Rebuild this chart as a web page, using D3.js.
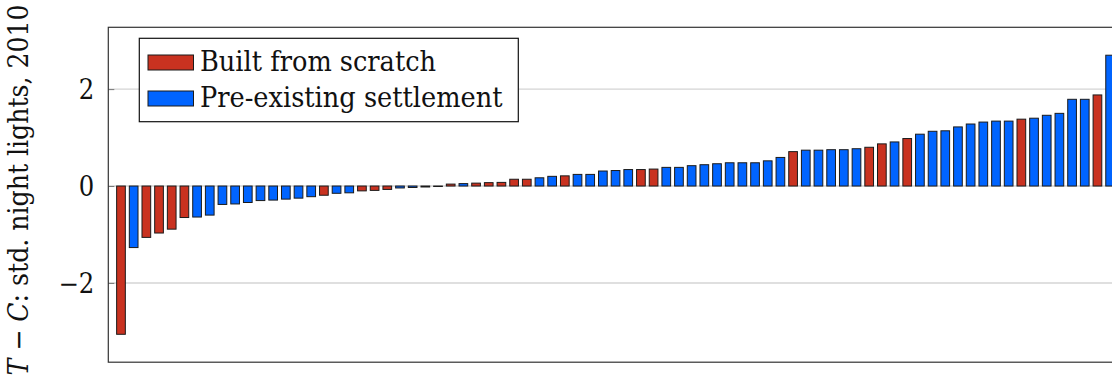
<!DOCTYPE html>
<html>
<head>
<meta charset="utf-8">
<script src="https://cdn.jsdelivr.net/npm/d3@7"></script>
<style>
  html, body { margin: 0; padding: 0; background: #fff; }
  svg { display: block; }
  text { font-family: "DejaVu Serif Condensed", "DejaVu Serif", serif; font-stretch: condensed; fill: #111; }
</style>
</head>
<body>
<svg id="chart" width="1112" height="379"></svg>
<script>
// Treatment minus control difference in standardized 2010 night lights, sorted ascending
const values = [
  -3.06, -1.27, -1.06, -0.97, -0.89, -0.65, -0.64, -0.60, -0.38, -0.37,
  -0.34, -0.30, -0.29, -0.27, -0.25, -0.22, -0.19, -0.15, -0.14, -0.10,
  -0.09, -0.07, -0.04, -0.03, -0.02, -0.01, 0.04, 0.05, 0.06, 0.07,
  0.075, 0.14, 0.14, 0.17, 0.20, 0.21, 0.24, 0.24, 0.31, 0.32,
  0.34, 0.34, 0.35, 0.385, 0.385, 0.42, 0.44, 0.46, 0.48, 0.48,
  0.48, 0.52, 0.59, 0.71, 0.74, 0.74, 0.75, 0.75, 0.77, 0.80,
  0.87, 0.91, 0.98, 1.07, 1.13, 1.14, 1.22, 1.28, 1.32, 1.34,
  1.34, 1.38, 1.40, 1.46, 1.50, 1.79, 1.79, 1.88, 2.70
];
// S = built from scratch, P = pre-existing settlement
const groups = [
  "S","P","S","S","S","S","P","P","P","P",
  "P","P","P","P","P","P","S","P","P","S",
  "S","S","P","P","P","P","S","P","S","S",
  "S","S","S","P","P","S","P","P","P","P",
  "P","S","S","P","P","P","P","P","P","P",
  "P","P","P","S","P","P","P","P","P","S",
  "S","P","S","P","P","P","P","P","P","P",
  "P","S","P","P","P","P","P","S","P"
];
const seriesNames = { S: "Built from scratch", P: "Pre-existing settlement" };
const seriesOrder = ["S", "P"];
const yTicks = [-2, 0, 2];
const yLabelParts = [["T", true], [" \u2212 ", false], ["C", true], [": std. night lights, 2010", false]];

const colors = { S: "#c93220", P: "#0064ff" };

const svg = d3.select("#chart");
const plot = { left: 108.3, top: 27.3, right: 1122.8, bottom: 362.2 };

// y range enlarged by 10% of the data span on both ends
const ext = d3.extent(values);
const pad = (ext[1] - ext[0]) * 0.1;
const y = d3.scaleLinear()
  .domain([ext[0] - pad, ext[1] + pad])
  .range([plot.bottom, plot.top]);

const x = d3.scaleBand()
  .domain(d3.range(values.length))
  .range([plot.left, plot.right])
  .paddingInner(0.314)
  .paddingOuter(0.657);

// grid lines
svg.append("g").selectAll("line")
  .data(yTicks).join("line")
  .attr("x1", plot.left).attr("x2", plot.right)
  .attr("y1", d => y(d)).attr("y2", d => y(d))
  .attr("stroke", "#d4d4d4").attr("stroke-width", 1.4);

// bars
svg.append("g").selectAll("rect")
  .data(values).join("rect")
  .attr("x", (d, i) => x(i))
  .attr("width", x.bandwidth())
  .attr("y", d => y(Math.max(0, d)))
  .attr("height", d => Math.abs(y(d) - y(0)))
  .attr("fill", (d, i) => colors[groups[i]])
  .attr("stroke", "#1b1b1b")
  .attr("stroke-width", 1);

// y axis ticks (inside) and labels
const yAxis = d3.axisLeft(y).tickValues(yTicks).tickSizeInner(-6).tickSizeOuter(0)
  .tickPadding(14).tickFormat(d => d < 0 ? "\u2212" + Math.abs(d) : String(d));
const ga = svg.append("g").attr("transform", `translate(${plot.left},0)`).call(yAxis);
ga.select(".domain").remove();
ga.selectAll(".tick line").attr("stroke", "#777").attr("stroke-width", 1);
ga.selectAll(".tick text")
  .attr("font-family", null).attr("font-size", 27).attr("dy", "0.36em").attr("fill", "#111");
ga.attr("font-family", null);

// frame
svg.append("rect")
  .attr("x", plot.left).attr("y", plot.top)
  .attr("width", plot.right - plot.left).attr("height", plot.bottom - plot.top)
  .attr("fill", "none").attr("stroke", "#333").attr("stroke-width", 1.2);

// y axis title
const yl = svg.append("text")
  .attr("transform", `translate(28,190) rotate(-90)`)
  .attr("text-anchor", "middle")
  .attr("font-size", 28);
yLabelParts.forEach(([t, it]) => {
  yl.append("tspan").text(t).attr("font-style", it ? "italic" : null);
});

// legend
const lg = svg.append("g");
lg.append("rect")
  .attr("x", 139.3).attr("y", 38.3).attr("width", 379).attr("height", 83.4)
  .attr("fill", "#fff").attr("stroke", "#111").attr("stroke-width", 1.2);
seriesOrder.forEach((k, i) => {
  const row = lg.append("g").attr("transform", `translate(0,${i * 36})`);
  row.append("rect")
    .attr("x", 148).attr("y", 55).attr("width", 45.5).attr("height", 15)
    .attr("fill", colors[k]).attr("stroke", "#1b1b1b").attr("stroke-width", 1);
  row.append("text")
    .attr("x", 200).attr("y", 71).attr("font-size", 28.5)
    .text(seriesNames[k]);
});
</script>
</body>
</html>
